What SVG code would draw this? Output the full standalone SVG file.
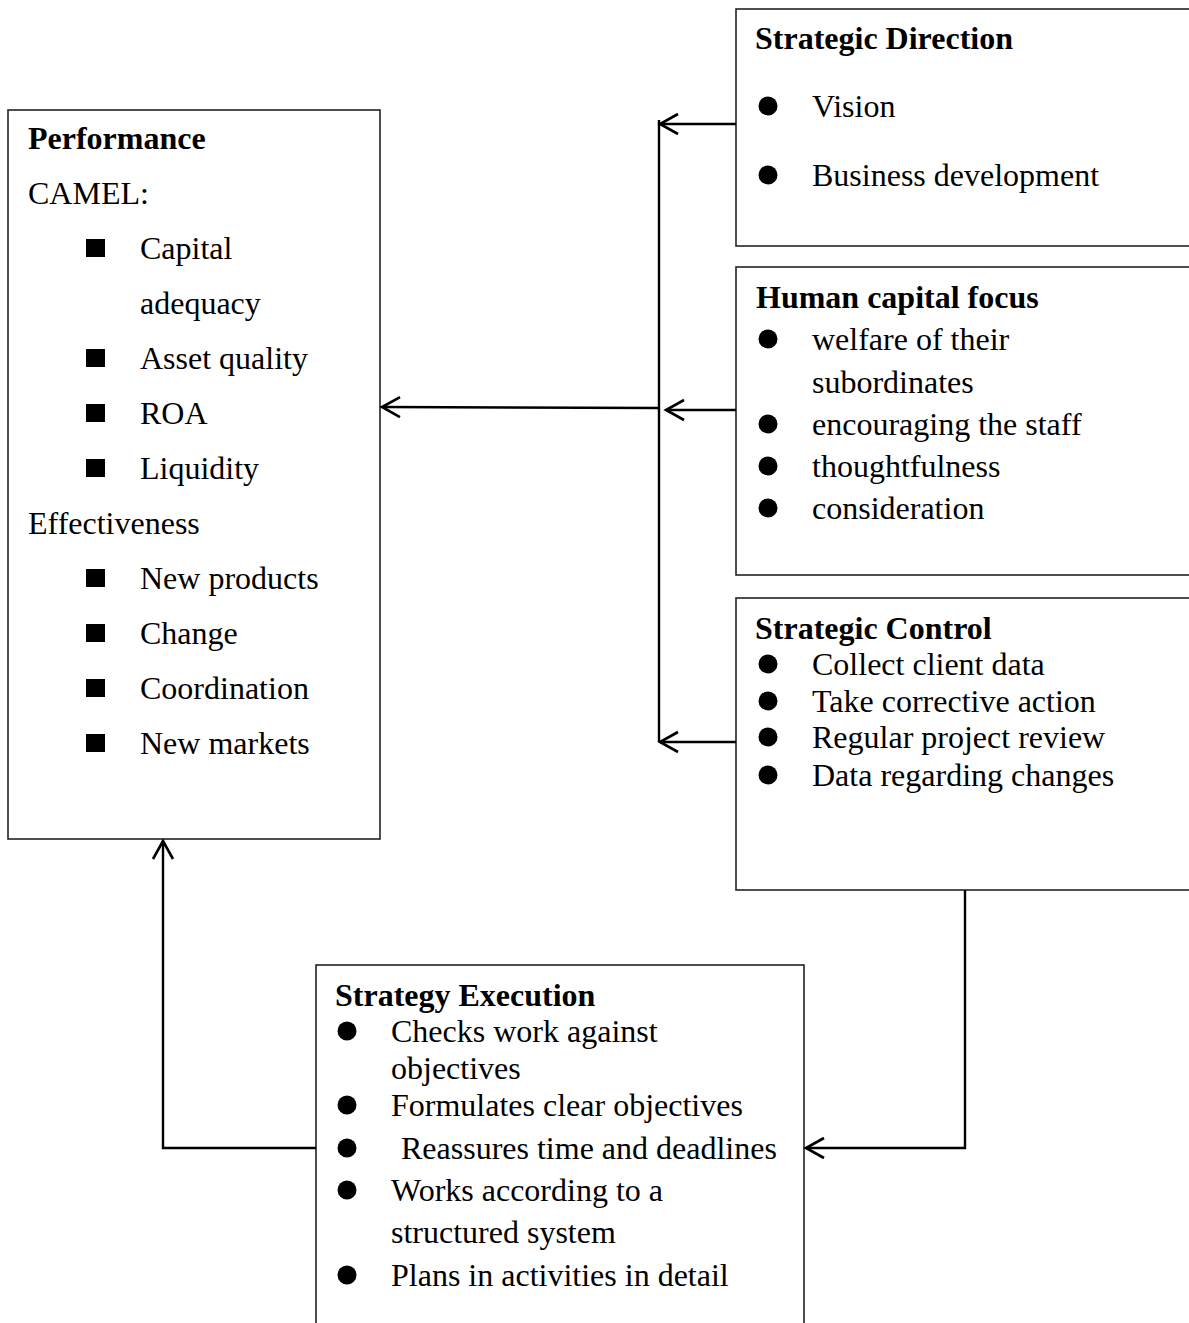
<svg xmlns="http://www.w3.org/2000/svg" width="1189" height="1323" viewBox="0 0 1189 1323">
<style>
text{font-family:"Liberation Serif","Times New Roman",serif;font-size:32px;fill:#000}
.t{font-weight:bold}
.box{fill:#fff;stroke:#222;stroke-width:1.6}
.c{fill:none;stroke:#000;stroke-width:2.4}
.dot{fill:#000}
</style>
<defs>
<marker id="ah" markerUnits="userSpaceOnUse" viewBox="-22 -13 24 26" markerWidth="24" markerHeight="26" refX="0" refY="0" orient="auto" overflow="visible">
<path d="M-18,-10 L0,0 L-18,10" fill="none" stroke="#000" stroke-width="2.6"/>
</marker>
</defs>
<rect width="1189" height="1323" fill="#fff"/>

<g id="performance">
<rect class="box" x="8" y="110" width="372" height="729"/>
<text class="t" x="28" y="149">Performance</text>
<text x="28" y="204">CAMEL:</text>
<rect class="dot" x="86" y="239" width="19" height="18"/>
<text x="140" y="259">Capital</text>
<text x="140" y="314">adequacy</text>
<rect class="dot" x="86" y="349" width="19" height="18"/>
<text x="140" y="369">Asset quality</text>
<rect class="dot" x="86" y="404" width="19" height="18"/>
<text x="140" y="424">ROA</text>
<rect class="dot" x="86" y="459" width="19" height="18"/>
<text x="140" y="479">Liquidity</text>
<text x="28" y="534">Effectiveness</text>
<rect class="dot" x="86" y="569" width="19" height="18"/>
<text x="140" y="589">New products</text>
<rect class="dot" x="86" y="624" width="19" height="18"/>
<text x="140" y="644">Change</text>
<rect class="dot" x="86" y="679" width="19" height="18"/>
<text x="140" y="699">Coordination</text>
<rect class="dot" x="86" y="734" width="19" height="18"/>
<text x="140" y="754">New markets</text>
</g>

<g id="strategic-direction">
<rect class="box" x="736" y="9" width="470" height="237"/>
<text class="t" x="755" y="49">Strategic Direction</text>
<circle class="dot" cx="768" cy="106" r="9.5"/>
<text x="812" y="117">Vision</text>
<circle class="dot" cx="768" cy="175" r="9.5"/>
<text x="812" y="186">Business development</text>
</g>

<g id="human-capital">
<rect class="box" x="736" y="267" width="470" height="308"/>
<text class="t" x="756" y="308">Human capital focus</text>
<circle class="dot" cx="768" cy="339" r="9.5"/>
<text x="812" y="350">welfare of their</text>
<text x="812" y="393">subordinates</text>
<circle class="dot" cx="768" cy="424" r="9.5"/>
<text x="812" y="435">encouraging the staff</text>
<circle class="dot" cx="768" cy="466" r="9.5"/>
<text x="812" y="477">thoughtfulness</text>
<circle class="dot" cx="768" cy="508" r="9.5"/>
<text x="812" y="519">consideration</text>
</g>

<g id="strategic-control">
<rect class="box" x="736" y="598" width="470" height="292"/>
<text class="t" x="755" y="639">Strategic Control</text>
<circle class="dot" cx="768" cy="664" r="9.5"/>
<text x="812" y="675">Collect client data</text>
<circle class="dot" cx="768" cy="701" r="9.5"/>
<text x="812" y="712">Take corrective action</text>
<circle class="dot" cx="768" cy="737" r="9.5"/>
<text x="812" y="748">Regular project review</text>
<circle class="dot" cx="768" cy="775" r="9.5"/>
<text x="812" y="786">Data regarding changes</text>
</g>

<g id="strategy-execution">
<rect class="box" x="316" y="965" width="488" height="380"/>
<text class="t" x="335" y="1006">Strategy Execution</text>
<circle class="dot" cx="347" cy="1031" r="9.5"/>
<text x="391" y="1042">Checks work against</text>
<text x="391" y="1079">objectives</text>
<circle class="dot" cx="347" cy="1105" r="9.5"/>
<text x="391" y="1116">Formulates clear objectives</text>
<circle class="dot" cx="347" cy="1148" r="9.5"/>
<text x="401" y="1159">Reassures time and deadlines</text>
<circle class="dot" cx="347" cy="1190" r="9.5"/>
<text x="391" y="1201">Works according to a</text>
<text x="391" y="1243">structured system</text>
<circle class="dot" cx="347" cy="1275" r="9.5"/>
<text x="391" y="1286">Plans in activities in detail</text>
</g>

<g id="connectors">
<path class="c" d="M659,120 L659,742"/>
<path class="c" d="M736,124 L660,124" marker-end="url(#ah)"/>
<path class="c" d="M736,410 L666,410" marker-end="url(#ah)"/>
<path class="c" d="M736,742 L660,742" marker-end="url(#ah)"/>
<path class="c" d="M659,408 L382,407" marker-end="url(#ah)"/>
<path class="c" d="M965,890 L965,1148 L806,1148" marker-end="url(#ah)"/>
<path class="c" d="M316,1148 L163,1148 L163,841" marker-end="url(#ah)"/>
</g>
</svg>
